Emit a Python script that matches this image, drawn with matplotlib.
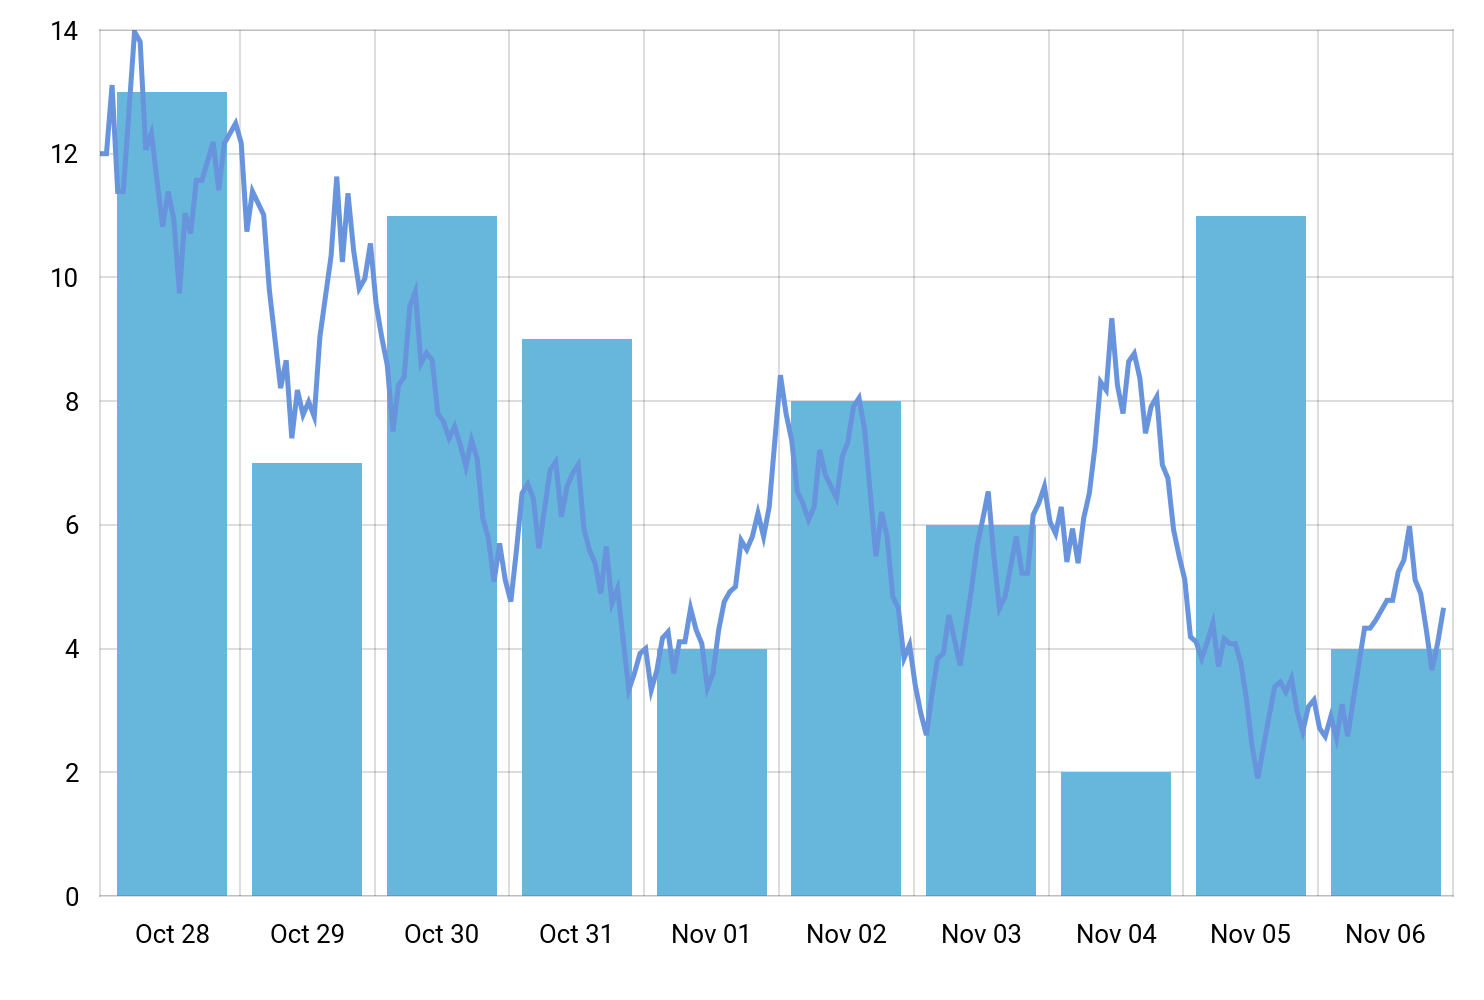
import numpy as np
import matplotlib.pyplot as plt
from matplotlib.ticker import FixedLocator

plt.rcParams['font.family'] = ['Roboto', 'DejaVu Sans']

# daily bars
days = ['Oct 28', 'Oct 29', 'Oct 30', 'Oct 31', 'Nov 01',
        'Nov 02', 'Nov 03', 'Nov 04', 'Nov 05', 'Nov 06']
daily = [13, 7, 11, 9, 4, 8, 6, 2, 11, 4]

# hourly line, hours since Oct 28 00:00 (only the visible corners)
hours = [-1, 0, 1, 2, 3, 5, 6, 7, 8, 10, 11, 12, 13, 14, 15, 16, 17, 19, 20, 21,
         23, 24, 25, 26, 28, 29, 31, 32, 33, 34, 35, 36, 37, 38, 40, 41, 42, 43, 44, 45,
         46, 47, 48, 49, 50, 51, 52, 53, 54, 55, 56, 57, 58, 59, 60, 61, 62, 63, 64, 65,
         66, 67, 68, 69, 70, 71, 72, 73, 74, 75, 76, 77, 79, 80, 81, 82, 83, 84, 85, 86,
         87, 88, 89, 90, 91, 92, 93, 94, 95, 96, 97, 98, 99, 100, 101, 102, 103, 104, 105, 106,
         107, 108, 109, 110, 111, 112, 113, 114, 115, 116, 117, 118, 120, 121, 122, 123, 124, 125, 126, 127,
         128, 129, 130, 131, 132, 133, 134, 135, 136, 137, 138, 139, 140, 141, 142, 143, 144, 145, 146, 147,
         148, 149, 150, 151, 152, 153, 154, 155, 156, 157, 158, 159, 160, 162, 163, 164, 165, 166, 167, 168,
         169, 170, 171, 172, 173, 174, 175, 176, 177, 178, 179, 180, 181, 182, 183, 184, 185, 186, 187, 188,
         189, 190, 191, 192, 193, 194, 195, 196, 197, 198, 199, 200, 201, 202, 203, 204, 205, 206, 207, 208,
         209, 210, 211, 212, 213, 214, 215, 216, 217, 218, 219, 220, 221, 222, 223, 224, 225, 226, 227, 228,
         229, 230, 231, 232, 233, 234, 235, 236, 237, 238]
values = [12.0, 12.0, 13.11, 11.39, 11.39, 13.97, 13.81, 12.06, 12.33, 10.82, 11.39, 10.93, 9.74, 11.04, 10.71, 11.57, 11.57, 12.19, 11.41, 12.17,
          12.49, 12.17, 10.74, 11.39, 11.01, 9.80, 8.21, 8.66, 7.40, 8.18, 7.78, 7.99, 7.75, 9.04, 10.35, 11.63, 10.25, 11.36, 10.44, 9.82,
          9.98, 10.55, 9.58, 9.04, 8.58, 7.51, 8.26, 8.39, 9.53, 9.77, 8.61, 8.78, 8.66, 7.80, 7.67, 7.40, 7.59, 7.29, 6.94, 7.37,
          7.07, 6.11, 5.78, 5.08, 5.70, 5.11, 4.76, 5.59, 6.51, 6.66, 6.43, 5.62, 6.89, 7.02, 6.13, 6.62, 6.83, 6.97, 5.94, 5.59,
          5.38, 4.89, 5.65, 4.73, 4.97, 4.14, 3.33, 3.60, 3.92, 4.00, 3.33, 3.65, 4.17, 4.27, 3.60, 4.11, 4.11, 4.65, 4.30, 4.08,
          3.36, 3.60, 4.30, 4.76, 4.92, 5.00, 5.75, 5.60, 5.81, 6.19, 5.81, 6.29, 8.42, 7.80, 7.37, 6.54, 6.35, 6.08, 6.29, 7.21,
          6.81, 6.62, 6.43, 7.10, 7.34, 7.91, 8.05, 7.53, 6.51, 5.49, 6.21, 5.81, 4.84, 4.65, 3.84, 4.06, 3.41, 2.95, 2.60, 3.28,
          3.84, 3.92, 4.54, 4.14, 3.73, 4.35, 4.95, 5.65, 6.08, 6.54, 5.49, 4.65, 4.84, 5.81, 5.22, 5.22, 6.16, 6.35, 6.62, 6.05,
          5.86, 6.29, 5.40, 5.94, 5.38, 6.11, 6.51, 7.26, 8.31, 8.18, 9.34, 8.26, 7.80, 8.64, 8.77, 8.37, 7.48, 7.91, 8.07, 6.97,
          6.75, 5.92, 5.49, 5.11, 4.19, 4.11, 3.84, 4.11, 4.41, 3.71, 4.16, 4.08, 4.08, 3.76, 3.17, 2.41, 1.90, 2.41, 2.90, 3.38,
          3.46, 3.30, 3.52, 2.98, 2.66, 3.06, 3.17, 2.71, 2.58, 2.90, 2.55, 3.10, 2.58, 3.17, 3.76, 4.33, 4.33, 4.46, 4.62, 4.78,
          4.78, 5.24, 5.43, 5.98, 5.11, 4.89, 4.30, 3.65, 4.08, 4.62]

y_ticks = [0, 2, 4, 6, 8, 10, 12, 14]

fig = plt.figure(figsize=(14.84, 10), dpi=100)
ax = fig.add_axes([100 / 1484, 104 / 1000, 1353 / 1484, 866 / 1000])

centers = np.arange(len(days)) * 24 + 12
ax.bar(centers, daily, width=19.6, color='#67b7dc', zorder=1)
# line a little right of the hour grid, like the original
ax.plot(np.array(hours) + 0.25, values, color='#6794dc', lw=3.6,
        solid_joinstyle='miter', zorder=2)

ax.set_xlim(-0.9, 240)
ax.set_ylim(0, 14)
ax.set_axisbelow(True)

ax.set_xticks(centers)
ax.set_xticklabels(days)
ax.xaxis.set_minor_locator(FixedLocator(np.arange(1, len(days)) * 24))
ax.set_yticks(y_ticks)

ax.grid(True, which='minor', axis='x', color='black', alpha=0.15, lw=1.3)
ax.grid(True, which='major', axis='y', color='black', alpha=0.15, lw=1.3)
ax.tick_params(which='both', length=0)
ax.tick_params(axis='y', labelsize=18.5, pad=15)
ax.tick_params(axis='x', labelsize=18.5, pad=20)

for sp in ax.spines.values():
    sp.set_edgecolor((0, 0, 0, 0.15))
    sp.set_linewidth(1.3)

fig.savefig('out.png', dpi=100)
